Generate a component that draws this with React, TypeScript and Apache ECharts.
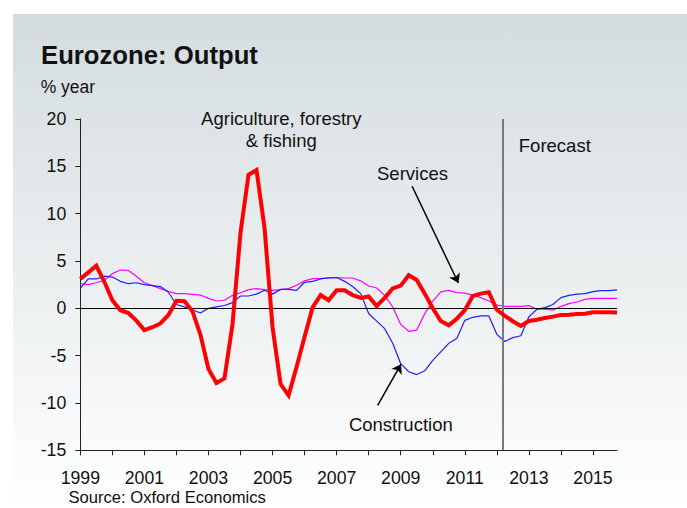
import React, { useEffect, useRef } from "react";
import * as echarts from "echarts";

const startYear = 1999;
const quarterStep = 0.25;

// % year, quarterly 1999Q1 .. 2015Q4
const agriculture = [
  3.1, 3.8, 4.5, 2.8, 0.85, -0.2, -0.5, -1.3, -2.3, -2.0,
  -1.6, -0.7, 0.8, 0.75, -0.3, -2.8, -6.4, -7.9, -7.4, -1.7,
  8.0, 14.1, 14.6, 8.5, -2.0, -8.0, -9.2, -6.2, -3.0, 0.1,
  1.4, 0.85, 1.9, 1.9, 1.4, 1.1, 1.25, 0.25, 1.1, 2.1,
  2.4, 3.5, 3.0, 1.55, 0.0, -1.35, -1.8, -1.1, -0.2, 1.3,
  1.55, 1.7, -0.15, -0.8, -1.37, -1.87, -1.34, -1.2, -1.02, -0.88,
  -0.7, -0.67, -0.6, -0.57, -0.42, -0.42, -0.42, -0.45,
];
const construction = [
  2.1, 3.1, 3.1, 3.4, 3.3, 2.85, 2.6, 2.7, 2.5, 2.4,
  2.3, 1.7, 0.4, 0.15, -0.15, -0.5, 0.0, 0.15, 0.3, 0.6,
  1.3, 1.3, 1.5, 1.9, 1.5, 2.0, 2.0, 1.9, 2.75, 2.85,
  3.1, 3.2, 3.25, 2.85, 2.3, 1.55, -0.55, -1.35, -2.15, -3.7,
  -5.85, -6.7, -7.0, -6.6, -5.5, -4.6, -3.7, -3.2, -1.27, -0.95,
  -0.8, -0.8, -2.75, -3.5, -3.1, -2.9, -0.9, -0.1, 0.07, 0.4,
  1.13, 1.37, 1.5, 1.55, 1.76, 1.87, 1.87, 1.94,
];
const services = [
  2.6, 2.5, 2.7, 2.96, 3.66, 4.05, 4.0, 3.38, 2.7, 2.4,
  2.08, 1.8, 1.55, 1.55, 1.48, 1.4, 1.05, 0.77, 0.85, 1.37,
  1.65, 1.97, 2.08, 1.97, 1.9, 1.97, 2.08, 2.43, 2.9, 3.13,
  3.13, 3.24, 3.25, 3.2, 3.2, 2.9, 2.36, 2.15, 1.37, 0.14,
  -1.7, -2.43, -2.3, -0.56, 0.77, 1.73, 1.9, 1.65, 1.6, 1.4,
  1.13, 0.77, 0.35, 0.21, 0.21, 0.21, 0.28, -0.1, -0.1, -0.2,
  0.21, 0.49, 0.67, 0.95, 1.05, 1.05, 1.05, 1.05,
];

const yearTicks = [1999, 2000, 2001, 2002, 2003, 2004, 2005, 2006, 2007, 2008, 2009, 2010, 2011, 2012, 2013, 2014, 2015];
const yearLabels = [1999, 2001, 2003, 2005, 2007, 2009, 2011, 2013, 2015];
const forecastStart = 2012.18;

const FONT = "'Liberation Sans', Arial, Helvetica, sans-serif";

export default function App() {
  const ref = useRef<HTMLDivElement>(null);

  useEffect(() => {
    const chart = echarts.init(ref.current as HTMLDivElement, null, { renderer: "svg" });
    const toPairs = (arr: number[]) => arr.map((v, i) => [startYear + i * quarterStep, v]);

    const txt = (text: string, x: number, y: number, size: number, align: string, bold = false) => ({
      type: "text",
      x,
      y,
      z: 100,
      silent: true,
      style: {
        text,
        fill: "#111",
        font: `${bold ? "bold " : ""}${size}px ${FONT}`,
        textAlign: align,
        textVerticalAlign: "middle",
      },
    });

    chart.setOption({
      animation: false,
      grid: { left: 80.3, top: 119, right: 70, bottom: 57.7 },
      graphic: [
        {
          type: "rect",
          z: -10,
          silent: true,
          shape: { x: 13, y: 14, width: 674, height: 494 },
          style: {
            fill: new echarts.graphic.LinearGradient(0, 0, 0, 1, [
              { offset: 0, color: "#d4dcdf" },
              { offset: 1, color: "#ffffff" },
            ]),
          },
        },
        txt("Eurozone: Output", 41, 54.5, 25.7, "left", true),
        txt("% year", 40.7, 87.2, 17.5, "left"),
        txt("Agriculture, forestry", 281.3, 118.6, 18.5, "center"),
        txt("& fishing", 281.3, 140.3, 18.5, "center"),
        txt("Services", 412.5, 173, 18.5, "center"),
        txt("Construction", 400.8, 424.3, 18.5, "center"),
        txt("Forecast", 518.8, 145.3, 18.5, "left"),
        txt("Source: Oxford Economics", 68.5, 497.5, 16.6, "left"),
      ],
      xAxis: {
        type: "value",
        min: 1999,
        max: 2015.75,
        interval: 1,
        splitLine: { show: false },
        axisLine: { show: true, onZero: false, lineStyle: { color: "#222", width: 1 } },
        axisTick: { show: true, length: 5, customValues: yearTicks, lineStyle: { color: "#222" } },
        axisLabel: {
          customValues: yearLabels,
          formatter: (v: number) => String(v),
          fontFamily: FONT,
          fontSize: 17.7,
          color: "#111",
          margin: 19,
        },
      },
      yAxis: {
        type: "value",
        min: -15,
        max: 20,
        interval: 5,
        splitLine: { show: false },
        axisLine: { show: true, lineStyle: { color: "#222", width: 1 } },
        axisTick: { show: true, length: 5, lineStyle: { color: "#222" } },
        axisLabel: { fontFamily: FONT, fontSize: 17.7, color: "#111", margin: 14 },
      },
      series: [
        {
          name: "Services",
          type: "line",
          data: toPairs(services),
          showSymbol: false,
          z: 3,
          lineStyle: { color: "#ff00ff", width: 1.2 },
          markLine: {
            silent: true,
            symbol: "none",
            label: { show: false },
            data: [
              { yAxis: 0, lineStyle: { color: "#000", width: 1.2, type: "solid" } },
              { xAxis: forecastStart, lineStyle: { color: "#7a7a7a", width: 2, type: "solid" } },
              [
                { coord: [2009.355, 12.89], symbol: "none", lineStyle: { color: "#000", width: 1.5, type: "solid" } },
                { coord: [2010.8, 2.67], symbol: "arrow", symbolSize: 9 },
              ],
              [
                { coord: [2008.28, -10.25], symbol: "none", lineStyle: { color: "#000", width: 1.5, type: "solid" } },
                { coord: [2009.01, -5.9], symbol: "arrow", symbolSize: 9 },
              ],
            ],
          },
        },
        {
          name: "Construction",
          type: "line",
          data: toPairs(construction),
          showSymbol: false,
          z: 4,
          lineStyle: { color: "#1f1fff", width: 1.2 },
        },
        {
          name: "Agriculture, forestry & fishing",
          type: "line",
          data: toPairs(agriculture),
          showSymbol: false,
          z: 5,
          lineStyle: { color: "#ff0000", width: 4, join: "miter" },
        },
      ],
    });

    return () => chart.dispose();
  }, []);

  return (
    <div
      ref={ref}
      style={{ position: "fixed", left: 0, top: 0, width: 687, height: 508, background: "#ffffff" }}
    />
  );
}
